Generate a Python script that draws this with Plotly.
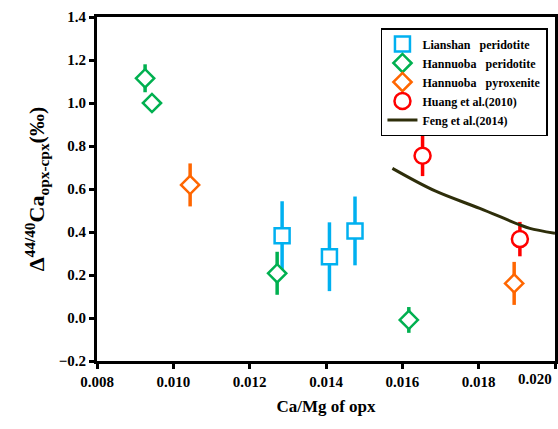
import plotly.graph_objects as go

# Lianshan peridotite
lian_x = [0.01285, 0.01409, 0.01476]
lian_y = [0.383, 0.285, 0.405]
lian_err = [0.16, 0.16, 0.16]

# Hannuoba peridotite
hper_x = [0.00926, 0.00944, 0.01272, 0.01617]
hper_y = [1.115, 1.000, 0.208, -0.009]
hper_err = [0.065, 0.0, 0.10, 0.06]

# Hannuoba pyroxenite
hpyx_x = [0.01044, 0.01893]
hpyx_y = [0.619, 0.161]
hpyx_err = [0.10, 0.10]

# Huang et al. (2010)
huang_x = [0.01653, 0.01908]
huang_y = [0.755, 0.367]
huang_err = [0.095, 0.08]

# Feng et al. (2014)
feng_x = [0.01574, 0.01686, 0.01803, 0.01908, 0.01934, 0.0200]
feng_y = [0.696, 0.591, 0.510, 0.433, 0.417, 0.394]

# x tick values / labels (last label sits right-aligned at the frame edge)
x_tickvals = [0.008, 0.010, 0.012, 0.014, 0.016, 0.018, 0.020]
x_ticktext = ["0.008", "0.010", "0.012", "0.014", "0.016", "0.018", "0.020"]

FONT = "Liberation Serif, Times New Roman, serif"
TICKFONT = dict(family=FONT, size=15, color="black", weight="bold")

def pts(x, y, err, name, color, symbol, size):
    return go.Scatter(
        x=x, y=y, mode="markers", name=name,
        marker=dict(symbol=symbol, size=size, color="white",
                    line=dict(color=color, width=2.5)),
        error_y=dict(type="data", array=err, visible=True, color=color,
                     thickness=3.5, width=0),
    )

fig = go.Figure()
fig.add_trace(pts(lian_x, lian_y, lian_err, "Lianshan\u00a0\u00a0\u00a0peridotite", "#00B0F0", "square", 15))
fig.add_trace(pts(hper_x, hper_y, hper_err, "Hannuoba\u00a0\u00a0\u00a0peridotite", "#00B050", "diamond", 14))
fig.add_trace(pts(hpyx_x, hpyx_y, hpyx_err, "Hannuoba\u00a0\u00a0\u00a0pyroxenite", "#FF6600", "diamond", 14))
fig.add_trace(pts(huang_x, huang_y, huang_err, "Huang et al.(2010)", "#FF0000", "circle", 16))
fig.add_trace(go.Scatter(x=feng_x, y=feng_y, mode="lines", name="Feng et al.(2014)",
                         line=dict(color="#2E2E0A", width=3, shape="spline")))

axis_common = dict(
    showline=True, linecolor="black", linewidth=3, mirror=True,
    ticks="outside", ticklen=5, tickwidth=3, tickcolor="black",
    showgrid=False, zeroline=False, automargin=False,
    tickfont=TICKFONT,
)

# last label is drawn as an annotation, right-aligned to the frame edge
ticktext_disp = x_ticktext[:-1] + [""]

fig.update_layout(
    width=558, height=429,
    margin=dict(l=97, r=3, t=17, b=68),
    plot_bgcolor="white", paper_bgcolor="white",
    font=dict(family=FONT, color="black"),
    xaxis=dict(range=[0.008, 0.020], tickmode="array", tickvals=x_tickvals,
               ticktext=ticktext_disp,
               title=dict(text="<b>Ca/Mg of opx</b>", font=dict(family=FONT, size=17), standoff=12),
               **axis_common),
    yaxis=dict(range=[-0.2, 1.4], dtick=0.2, tickformat=".1f",
               title=dict(text="<b>Δ<sup>44/40</sup>Ca<sub>opx-cpx</sub>(‰)</b>",
                          font=dict(family=FONT, size=22), standoff=8),
               **axis_common),
    legend=dict(x=0.62, y=0.968, xanchor="left", yanchor="top",
                bordercolor="black", borderwidth=1.5, bgcolor="white",
                font=dict(family=FONT, size=12, weight="bold"),
                itemwidth=30, tracegroupgap=0),
    showlegend=True,
)

fig.add_annotation(x=x_tickvals[-1], xref="x", y=0, yref="paper",
                   text="<b>" + x_ticktext[-1] + "</b>", showarrow=False,
                   xanchor="right", yanchor="top", yshift=-8, xshift=-1,
                   font=dict(family=FONT, size=15, color="black"))

fig.write_html("out.html")
